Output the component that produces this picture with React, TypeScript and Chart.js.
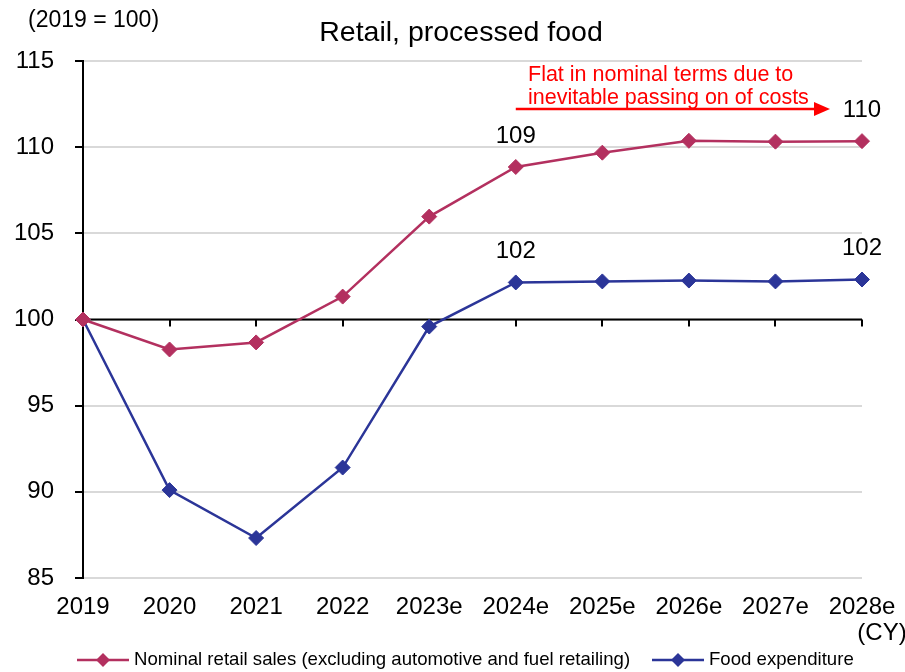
import React, { useEffect, useRef } from "react";
import { Chart, registerables } from "chart.js";
Chart.register(...registerables);

const categories = ["2019", "2020", "2021", "2022", "2023e", "2024e", "2025e", "2026e", "2027e", "2028e"];
const nominalRetail = [100, 98.26, 98.67, 101.33, 105.97, 108.85, 109.68, 110.37, 110.32, 110.35];
const foodExpenditure = [100, 90.1, 87.32, 91.41, 99.59, 102.15, 102.21, 102.26, 102.21, 102.32];
const seriesNames = ["Nominal retail sales (excluding automotive and fuel retailing)", "Food expenditure"];
const seriesColors = ["#b3305f", "#2b3598"];
const yMin = 85;
const yMax = 115;
const yStep = 5;
const baseValue = 100;
const titleText = "Retail, processed food";
const unitText = "(2019 = 100)";
const xUnitText = "(CY)";
const noteLines = ["Flat in nominal terms due to", "inevitable passing on of costs"];
// [seriesIndex, categoryIndex, label]
const valueLabels: [number, number, string][] = [
  [0, 5, "109"],
  [1, 5, "102"],
  [0, 9, "110"],
  [1, 9, "102"],
];
// arrow spans from category index 5 to about 8.63
const arrowFrom = 5;
const arrowTo = 8.63;

const FONT = "'Liberation Sans', Arial, sans-serif";

export default function App() {
  const ref = useRef<HTMLCanvasElement | null>(null);
  useEffect(() => {
    if (!ref.current) return;
    const overlay = {
      id: "overlay",
      beforeDatasetsDraw(chart: any) {
        const ctx = chart.ctx;
        const x = chart.scales.x;
        const y = chart.scales.y;
        const yb = y.getPixelForValue(baseValue);
        ctx.save();
        ctx.strokeStyle = "#000";
        ctx.lineWidth = 2;
        ctx.beginPath();
        ctx.moveTo(chart.chartArea.left, yb);
        ctx.lineTo(chart.chartArea.right, yb);
        for (let i = 0; i < categories.length; i++) {
          const px = Math.round(x.getPixelForValue(i));
          ctx.moveTo(px, yb);
          ctx.lineTo(px, yb + 7);
        }
        ctx.stroke();
        ctx.restore();
      },
      afterDraw(chart: any) {
        const ctx = chart.ctx;
        const x = chart.scales.x;
        const y = chart.scales.y;
        ctx.save();
        ctx.fillStyle = "#000";
        ctx.textBaseline = "middle";
        // title
        ctx.font = `28.5px ${FONT}`;
        ctx.textAlign = "center";
        ctx.fillText(titleText, 461, 33);
        ctx.font = `23px ${FONT}`;
        ctx.textAlign = "left";
        ctx.fillText(unitText, 28, 21);
        // CY
        ctx.font = `24px ${FONT}`;
        ctx.textAlign = "center";
        ctx.fillText(xUnitText, 882, 633);
        // value labels
        const data = [nominalRetail, foodExpenditure];
        for (const [s, i, t] of valueLabels) {
          const px = x.getPixelForValue(i);
          const py = y.getPixelForValue(data[s][i]);
          ctx.fillText(t, px, py - 31);
        }
        // note
        ctx.fillStyle = "#ff0000";
        ctx.font = `21.5px ${FONT}`;
        ctx.textAlign = "left";
        ctx.fillText(noteLines[0], 528, 75);
        ctx.fillText(noteLines[1], 528, 98);
        const ax0 = x.getPixelForValue(arrowFrom);
        const ax1 = x.getPixelForValue(arrowTo);
        const ay = 109;
        ctx.strokeStyle = "#ff0000";
        ctx.lineWidth = 2.5;
        ctx.beginPath();
        ctx.moveTo(ax0, ay);
        ctx.lineTo(ax1 - 14, ay);
        ctx.stroke();
        ctx.beginPath();
        ctx.moveTo(ax1, ay);
        ctx.lineTo(ax1 - 16, ay - 7);
        ctx.lineTo(ax1 - 16, ay + 7);
        ctx.closePath();
        ctx.fill();
        // legend
        const ly = 660;
        const legend = [
          { x0: 77, text: seriesNames[0], color: seriesColors[0] },
          { x0: 652, text: seriesNames[1], color: seriesColors[1] },
        ];
        ctx.font = `18.6px ${FONT}`;
        for (const l of legend) {
          ctx.strokeStyle = l.color;
          ctx.fillStyle = l.color;
          ctx.lineWidth = 2.5;
          ctx.beginPath();
          ctx.moveTo(l.x0, ly);
          ctx.lineTo(l.x0 + 52, ly);
          ctx.stroke();
          const cx = l.x0 + 26;
          ctx.beginPath();
          ctx.moveTo(cx, ly - 7);
          ctx.lineTo(cx + 7, ly);
          ctx.lineTo(cx, ly + 7);
          ctx.lineTo(cx - 7, ly);
          ctx.closePath();
          ctx.fill();
          ctx.fillStyle = "#000";
          ctx.fillText(l.text, l.x0 + 57, ly);
        }
        ctx.restore();
      },
    };
    const mkDs = (label: string, data: number[], color: string) => ({
      label,
      data,
      borderColor: color,
      backgroundColor: color,
      pointBackgroundColor: color,
      pointBorderColor: color,
      borderWidth: 2.5,
      pointStyle: "rectRot",
      pointRadius: 7.5,
      pointBorderWidth: 1,
      tension: 0,
      clip: false,
    });
    const chart = new Chart(ref.current, {
      type: "line",
      data: {
        labels: categories,
        datasets: [
          mkDs(seriesNames[0], nominalRetail, seriesColors[0]),
          mkDs(seriesNames[1], foodExpenditure, seriesColors[1]),
        ],
      },
      options: {
        animation: false,
        responsive: false,
        events: [],
        layout: { padding: { top: 61, right: 43, left: 0, bottom: 0 } },
        plugins: { legend: { display: false }, title: { display: false }, tooltip: { enabled: false } },
        scales: {
          x: {
            type: "category",
            offset: false,
            grid: { display: false, drawTicks: false },
            border: { display: false },
            ticks: { color: "#000", font: { family: FONT, size: 24 }, padding: 15, maxRotation: 0, autoSkip: false },
            afterFit: (s: any) => { s.height = 94; s.paddingLeft = 0; s.paddingRight = 0; },
          },
          y: {
            min: yMin,
            max: yMax,
            grid: { color: "#d9d9d9", lineWidth: 2, drawTicks: true, tickLength: 8, tickColor: "#000", tickWidth: 2 },
            border: { display: true, color: "#000", width: 2 },
            ticks: { stepSize: yStep, color: "#000", font: { family: FONT, size: 24 }, padding: 21 },
            afterFit: (s: any) => { s.width = 83; s.paddingTop = 0; s.paddingBottom = 0; },
          },
        },
      },
      plugins: [overlay],
    } as any);
    return () => chart.destroy();
  }, []);
  return (
    <div style={{ position: "absolute", left: 0, top: 0, width: 905, height: 672, background: "#fff" }}>
      <canvas ref={ref} width={905} height={672} style={{ display: "block" }} />
    </div>
  );
}
